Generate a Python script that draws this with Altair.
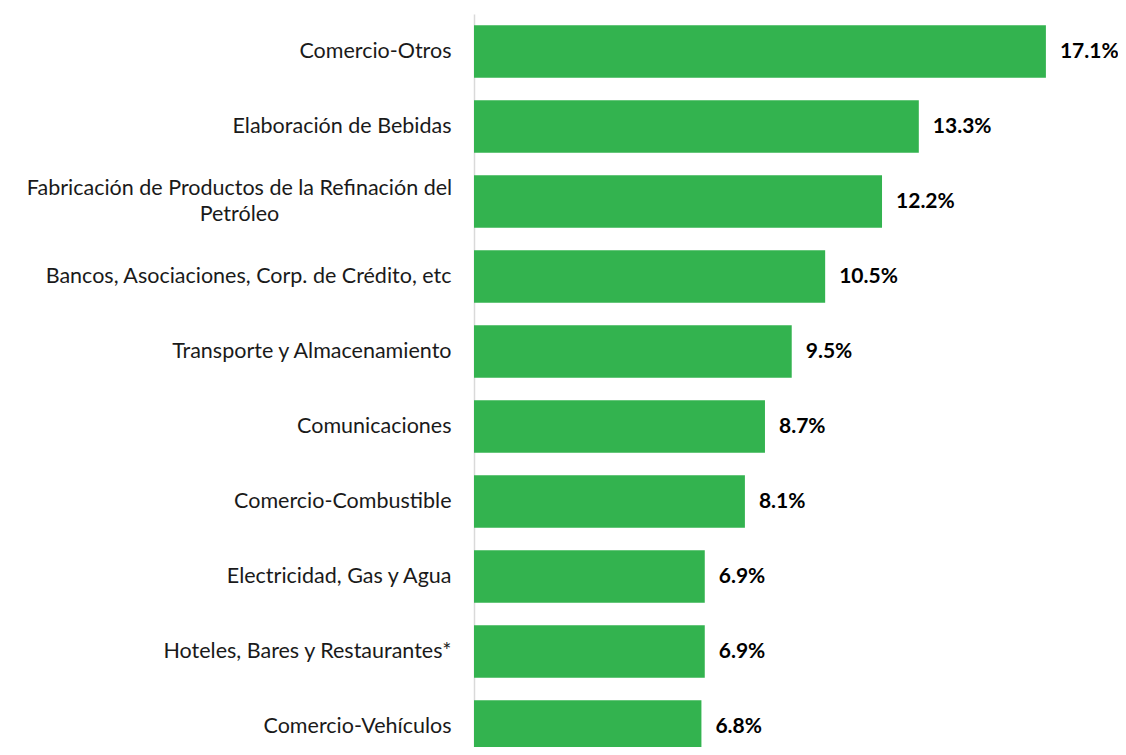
import altair as alt
import pandas as pd

categories = [
    "Comercio-Otros",
    "Elaboración de Bebidas",
    "Fabricación de Productos de la Refinación del|Petróleo",
    "Bancos, Asociaciones, Corp. de Crédito, etc",
    "Transporte y Almacenamiento",
    "Comunicaciones",
    "Comercio-Combustible",
    "Electricidad, Gas y Agua",
    "Hoteles, Bares y Restaurantes*",
    "Comercio-Vehículos",
]
values = [17.1, 13.3, 12.2, 10.5, 9.5, 8.7, 8.1, 6.9, 6.9, 6.8]
value_labels = ["17.1%", "13.3%", "12.2%", "10.5%", "9.5%", "8.7%", "8.1%", "6.9%", "6.9%", "6.8%"]

df = pd.DataFrame({"cat": categories, "val": values, "lab": value_labels})

FONT = "Lato"
MULTI = "indexof(datum.label, '|') >= 0"

y = alt.Y(
    "cat:N",
    sort=categories,
    scale=alt.Scale(range=[0, 750], paddingInner=0.3, paddingOuter=0.15),
    axis=alt.Axis(
        title=None,
        ticks=False,
        labelExpr="split(datum.label, '|')",
        labelPadding={"condition": {"test": MULTI, "value": 235}, "value": 23},
        labelAlign={"condition": {"test": MULTI, "value": "center"}, "value": "right"},
        labelOffset={"condition": {"test": MULTI, "value": -13}, "value": 0},
        labelFontSize=21.5,
        labelFont=FONT,
        labelColor="#1a1a1a",
        labelLimit=0,
        labelLineHeight=26,
        domainColor="#d9d9d9",
        domainWidth=1.5,
        grid=False,
    ),
)
x = alt.X("val:Q", scale=alt.Scale(domain=[0, 18], nice=False, zero=True), axis=None)

bars = alt.Chart(df).mark_bar(color="#33B34F").encode(x=x, y=y)
text = alt.Chart(df).mark_text(
    align="left", baseline="middle", dx=14, font=FONT, fontSize=21, fontWeight="bold", color="#000000"
).encode(x=x, y=y, text="lab:N")

chart = (
    alt.layer(bars, text)
    .properties(
        width=602,
        height=733,
        padding={"left": 466, "top": 6, "right": 42, "bottom": 0},
        autosize=alt.AutoSizeParams(type="none"),
    )
    .configure_view(stroke=None)
)

chart.save("out.html", embed_options={"renderer": "svg", "actions": False})
